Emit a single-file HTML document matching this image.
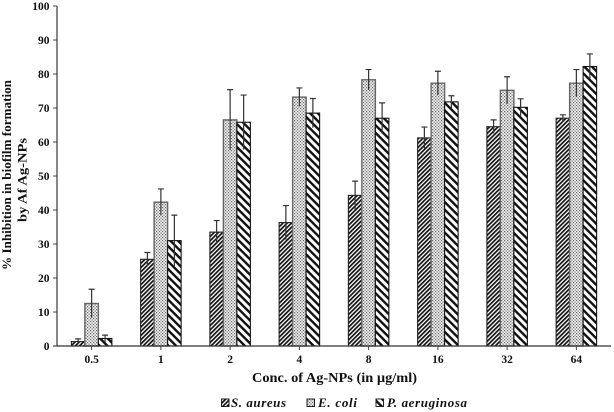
<!DOCTYPE html>
<html>
<head>
<meta charset="utf-8">
<style>
html,body{margin:0;padding:0;background:#fff;}
svg{display:block;}
text{font-family:"Liberation Serif",serif;font-weight:bold;fill:#111;}
</style>
</head>
<body>
<svg id="chart" width="614" height="412" viewBox="0 0 614 412" xmlns="http://www.w3.org/2000/svg">
<defs>
<pattern id="p-s" width="3" height="3" patternUnits="userSpaceOnUse" patternTransform="rotate(45)">
<rect width="3" height="3" fill="#fff"/><rect width="1.7" height="3" fill="#111"/>
</pattern>
<pattern id="p-e" width="3" height="3" patternUnits="userSpaceOnUse">
<rect width="3" height="3" fill="#f2f2f2"/><rect x="0" y="0" width="1.2" height="1.2" fill="#666"/><rect x="1.5" y="1.5" width="1.2" height="1.2" fill="#666"/>
</pattern>
<pattern id="p-p" width="5.4" height="5.4" patternUnits="userSpaceOnUse" patternTransform="rotate(45)">
<rect width="5.4" height="5.4" fill="#fff"/><rect width="5.4" height="2.4" fill="#111"/>
</pattern>
</defs>
<g id="plot"></g>
</svg>
<script>
const categories = ["0.5","1","2","4","8","16","32","64"];
const yTicks = [0,10,20,30,40,50,60,70,80,90,100];
const seriesNames = ["S. aureus","E. coli","P. aeruginosa"];
const sAureus = [1.3,25.5,33.5,36.3,44.3,61.2,64.5,67];
const eColi = [12.5,42.3,66.5,73.2,78.3,77.3,75.2,77.3];
const pAeruginosa = [2.2,31,65.8,68.5,67,71.8,70.2,82.2];
const sAureusErr = [0.8,2,3.4,5,4.2,3.2,2,1];
const eColiErr = [4.2,3.9,8.9,2.7,3,3.5,4,4];
const pAeruginosaErr = [1,7.5,8,4.3,4.5,1.8,2.5,3.7];

const NS = "http://www.w3.org/2000/svg";
const root = document.getElementById("plot");
const x0 = 57, bandW = 69.25, barW = 13.5;
const y = v => 346 - v * 3.4;
const xc = i => x0 + bandW * (i + 0.5);
function mk(tag, attrs, text) {
  const el = document.createElementNS(NS, tag);
  for (const k in attrs) el.setAttribute(k, attrs[k]);
  if (text !== undefined) el.textContent = text;
  root.appendChild(el);
  return el;
}
const fills = ["url(#p-s)","url(#p-e)","url(#p-p)"];
const strokes = ["#222","#666","#111"];
const strokeWidths = [1.1,1.4,1.1];
const values = [sAureus, eColi, pAeruginosa];
const errors = [sAureusErr, eColiErr, pAeruginosaErr];

values.forEach((vals, s) => {
  vals.forEach((v, i) => {
    const bx = xc(i) + (s - 1.5) * barW;
    const bar = mk("rect", {x: bx, y: y(v), width: barW, height: y(0) - y(v), fill: fills[s], stroke: strokes[s], "stroke-width": strokeWidths[s]});
    
    
  });
});
values.forEach((vals, s) => {
  vals.forEach((v, i) => {
    const cx = xc(i) + (s - 1) * barW;
    const e = errors[s][i];
    const err = mk("path", {d: "M" + cx + " " + y(v - e) + "V" + y(v + e) + "M" + (cx - 3) + " " + y(v + e) + "H" + (cx + 3), fill: "none", stroke: "#333", "stroke-width": 1.2});
    
    
  });
});

const yAxis = mk("line", {x1: x0, x2: x0, y1: y(100), y2: y(0), stroke: "#555", "stroke-width": 1.4});


const xAxis = mk("line", {x1: x0 - 4, x2: x0 + bandW * categories.length, y1: y(0), y2: y(0), stroke: "#333", "stroke-width": 1.2});



yTicks.forEach(t => {
  const tick = mk("line", {x1: x0 - 4, x2: x0, y1: y(t), y2: y(t), stroke: "#444", "stroke-width": 1});
  
  
  const lab = mk("text", {x: 49.5, y: y(t) + 4, "text-anchor": "end", "font-size": 11.5}, t);
  
  
});
categories.forEach((c, i) => {
  const tick = mk("line", {x1: xc(i), x2: xc(i), y1: y(0), y2: y(0) + 4, stroke: "#444", "stroke-width": 1});
  
  
  const lab = mk("text", {x: xc(i), y: 363, "text-anchor": "middle", "font-size": 11.5}, c);
  
  
});

const t1 = mk("text", {transform: "translate(11,175) rotate(-90)", "text-anchor": "middle", "font-size": 12.5, textLength: 190, lengthAdjust: "spacingAndGlyphs"}, "% Inhibition in biofilm formation");


const t2 = mk("text", {transform: "translate(26.5,180) rotate(-90)", "text-anchor": "middle", "font-size": 13, textLength: 84, lengthAdjust: "spacingAndGlyphs"}, "by Af Ag-NPs");


const xt = mk("text", {x: 334.5, y: 382, "text-anchor": "middle", "font-size": 14, textLength: 165, lengthAdjust: "spacingAndGlyphs"}, "Conc. of Ag-NPs (in µg/ml)");



const legendSwatchX = [221.5, 307, 376];
const legendLengths = [55, 39, 80];
seriesNames.forEach((n, s) => {
  const sw = mk("rect", {x: legendSwatchX[s], y: 399, width: 7.5, height: 7.5, fill: fills[s], stroke: "#222", "stroke-width": 1});
  
  
  const lab = mk("text", {x: legendSwatchX[s] + (s === 0 ? 9.5 : 11), y: 407, "font-size": 13, "font-style": "italic", textLength: legendLengths[s], lengthAdjust: "spacing"}, n);
  
  
});
</script>
</body>
</html>
